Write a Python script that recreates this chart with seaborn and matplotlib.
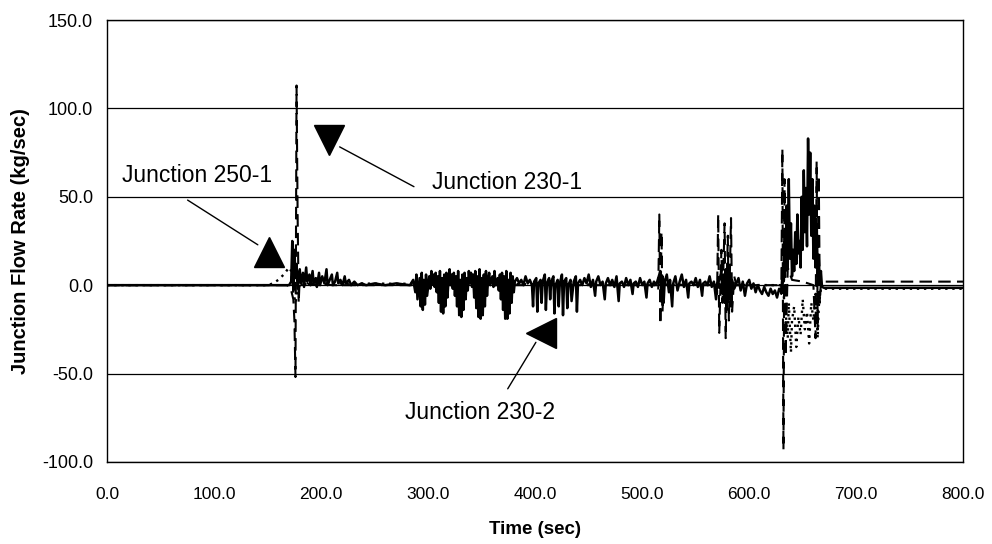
import matplotlib
matplotlib.use("Agg")
import matplotlib.pyplot as plt
import seaborn as sns
import pandas as pd

# Junction 250-1 (solid)
t_250_1 = [0, 170, 172, 173, 174, 175, 176, 177, 178, 180,
           181, 183, 184, 186, 187, 189, 190, 192, 193, 195,
           196, 198, 199, 201, 203, 205, 206, 208, 210, 211,
           213, 215, 216, 218, 220, 222, 223, 226, 228, 231,
           234, 238, 242, 250, 260, 270, 283, 286, 288, 289,
           290, 292, 293, 294, 295, 296, 297, 298, 299, 301,
           302, 303, 304, 305, 306, 307, 308, 309, 310, 311,
           312, 313, 314, 315, 316, 317, 318, 319, 320, 321,
           322, 323, 324, 325, 326, 327, 328, 329, 330, 331,
           332, 333, 334, 335, 336, 337, 338, 339, 340, 341,
           342, 343, 344, 345, 346, 347, 348, 349, 350, 351,
           352, 353, 354, 355, 356, 357, 358, 360, 361, 362,
           363, 365, 366, 367, 368, 369, 370, 371, 372, 373,
           374, 375, 376, 377, 378, 379, 380, 381, 383, 385,
           387, 389, 391, 393, 395, 397, 398, 399, 401, 402,
           403, 405, 406, 407, 409, 410, 411, 413, 414, 415,
           417, 418, 419, 421, 422, 423, 425, 426, 427, 429,
           430, 431, 433, 434, 436, 438, 439, 440, 442, 444,
           446, 448, 450, 452, 454, 456, 457, 459, 461, 463,
           465, 466, 468, 470, 472, 474, 476, 478, 479, 481,
           483, 485, 487, 489, 491, 492, 494, 496, 498, 500,
           502, 504, 505, 507, 509, 511, 513, 515, 517, 518,
           519, 520, 521, 523, 525, 526, 528, 529, 531, 533,
           535, 537, 539, 541, 543, 544, 546, 548, 550, 552,
           554, 556, 557, 559, 561, 563, 565, 567, 569, 570,
           572, 574, 575, 576, 577, 578, 579, 580, 581, 582,
           583, 584, 586, 588, 590, 592, 594, 596, 598, 600,
           602, 604, 606, 608, 610, 612, 614, 616, 618, 620,
           622, 624, 626, 628, 630, 631, 632, 633, 634, 635,
           636, 637, 638, 639, 640, 641, 642, 643, 644, 645,
           646, 647, 648, 649, 650, 651, 652, 653, 654, 655,
           656, 657, 658, 659, 660, 661, 662, 663, 664, 665,
           666, 667, 668, 670, 800]
q_250_1 = [0, 0, 2, 25, -3, 20, 4, 12, -2, 9,
           1, 7, -1, 10, 2, 6, 0, 8, 1, 4,
           -1, 7, 0, 5, 1, 9, 0, 3, 6, 0,
           2, 7, 1, 3, 0, 5, 1, 3, 0, 2,
           0, 1, 0, 1, 0, 1, 0, 3, -4, 6,
           -8, 4, -12, 7, -14, 3, -11, 6, -6, 5,
           -2, 8, 1, 6, -1, 7, -4, 5, -10, 8,
           -15, 4, -16, 6, -12, 7, -7, 3, 9, 0,
           6, -2, 7, -6, 5, -12, 8, -17, 3, -18,
           6, -14, 7, -8, 4, -3, 8, 1, 7, -1,
           6, -7, 8, -13, 5, -18, 9, -19, 4, -17,
           6, -12, 8, -6, 3, 7, 0, 5, -1, 8,
           0, 4, -3, 6, -8, 7, -14, 5, -19, 8,
           -19, 3, -16, 7, -10, 5, -4, 2, 4, 1,
           3, 0, 5, 1, 3, 0, -12, 2, 4, -15,
           1, 3, -10, 2, 6, -14, 1, 4, -8, 2,
           5, -16, 0, 3, -12, 1, 6, -17, 2, 4,
           -13, 0, 3, -9, 2, 5, -15, 1, 3, 0,
           4, 1, 6, -1, 3, -6, 2, 5, 0, 2,
           -8, 1, 4, 0, 3, -1, 5, -9, 1, 2,
           -1, 4, 0, 3, -5, 1, 2, -1, 4, 0,
           2, -7, 1, 3, -1, 2, 0, 4, 8, -6,
           5, -10, 2, 6, -4, 3, -12, 1, 5, -3,
           2, 6, -1, 3, -7, 1, 2, 0, 4, -1,
           3, -6, 1, 2, 0, 5, -1, 2, -8, 1,
           3, 7, -5, 6, -10, 9, -14, 12, -8, 5,
           -12, 3, -2, 1, 4, -3, 2, -6, 1, 3,
           -2, 1, -4, 0, -3, -5, -1, -4, -6, -2,
           -5, -3, -7, -2, -4, 5, 2, 25, 8, 45,
           10, 60, 15, 35, 5, 20, 8, 30, 12, 40,
           18, 25, 10, 50, 20, 65, 30, 55, 22, 83,
           40, 75, 28, 60, 15, 45, 10, 30, 5, 15,
           2, 8, -1, -1.5, -1.5]

# Junction 230-1 (dashed)
t_230_1 = [0, 168, 170, 172, 174, 175, 176, 177, 178, 179,
           180, 182, 185, 190, 200, 210, 240, 290, 512, 515,
           516, 517, 518, 519, 520, 522, 568, 570, 571, 572,
           574, 575, 577, 578, 580, 581, 583, 584, 586, 588,
           628, 630, 631, 632, 633, 634, 636, 640, 650, 660,
           662, 663, 664, 665, 666, 667, 800]
q_230_1 = [0, 0, -1, -3, -8, -20, -52, 113, 40, -10,
           5, 0, 2, 0, 1, 0, 0, 0, 0, -3,
           40, -22, 30, -15, 5, 0, 0, -5, 40, -27,
           20, -10, 35, -30, 28, -20, 38, -15, 5, 0,
           0, -5, 77, -93, 60, -40, 10, 3, 2, 0,
           -30, 70, -25, 62, -10, 2, 2]

# Junction 230-2 (dotted)
t_230_2 = [0, 150, 155, 160, 165, 170, 172, 174, 176, 178,
           180, 190, 630, 632, 634, 636, 637, 639, 640, 642,
           644, 646, 648, 650, 652, 654, 656, 658, 660, 662,
           664, 665, 667, 800]
q_230_2 = [0, 0, 1, 3, 6, 10, 8, -4, -10, -3,
           0, 1, 0, -5, -15, -30, -10, -38, -20, -12,
           -35, -18, -28, -8, -25, -15, -33, -10, -20, -5,
           -30, -12, -2, -2]

y_ticks = [-100, -50, 0, 50, 100, 150]
x_ticks = [0, 100, 200, 300, 400, 500, 600, 700, 800]

sns.set_style("white")
plt.rcParams['font.family'] = ['Liberation Sans', 'DejaVu Sans']
plt.rcParams['text.color'] = 'black'
plt.rcParams['axes.labelcolor'] = 'black'

fig = plt.figure(figsize=(9.92, 5.44), dpi=100)
ax = fig.add_axes([0.108, 0.151, 0.863, 0.812])

df1 = pd.DataFrame({'t': t_250_1, 'q': q_250_1})
df2 = pd.DataFrame({'t': t_230_1, 'q': q_230_1})
df3 = pd.DataFrame({'t': t_230_2, 'q': q_230_2})

sns.lineplot(data=df3, x='t', y='q', ax=ax, color='k', lw=1.7,
             linestyle=(0, (1, 2)), estimator=None, sort=False)
sns.lineplot(data=df2, x='t', y='q', ax=ax, color='k', lw=1.5,
             linestyle=(0, (6, 3)), estimator=None, sort=False)
sns.lineplot(data=df1, x='t', y='q', ax=ax, color='k', lw=1.8,
             estimator=None, sort=False)

ax.set_xlim(0, 800)
ax.set_ylim(-100, 150)
ax.set_yticks(y_ticks)
ax.set_xticks(x_ticks)
ax.set_yticklabels([f"{v:.1f}" for v in y_ticks], fontsize=13)
ax.set_xticklabels([f"{v:.1f}" for v in x_ticks], fontsize=12.5)
ax.yaxis.grid(True, color='k', lw=0.9)
ax.xaxis.grid(False)
ax.set_axisbelow(True)
for s in ax.spines.values():
    s.set_color('k')
    s.set_linewidth(1.0)
ax.tick_params(axis='both', direction='inout', length=8, width=0.9, colors='k')
ax.tick_params(axis='x', pad=14)
ax.tick_params(axis='y', pad=6)

ax.set_xlabel("Time (sec)", fontsize=13.5, fontweight='bold', labelpad=14, color='k')
ax.set_ylabel("Junction Flow Rate (kg/sec)", fontsize=14.5, fontweight='bold', labelpad=9, color='k')

# annotations
ax.text(14, 62, "Junction 250-1", fontsize=16.5, va='center', ha='left', color='k')
ax.annotate('', xy=(143, 22), xytext=(73, 49), arrowprops=dict(arrowstyle='-', color='k', lw=1))
ax.plot(151, 19, marker='^', ms=22, color='k')

ax.text(304, 58, "Junction 230-1", fontsize=16.5, va='center', ha='left', color='k')
ax.annotate('', xy=(215, 79), xytext=(289, 55), arrowprops=dict(arrowstyle='-', color='k', lw=1))
ax.plot(207, 82, marker='v', ms=22, color='k')

ax.text(278, -72, "Junction 230-2", fontsize=16.5, va='center', ha='left', color='k')
ax.annotate('', xy=(402, -31), xytext=(373, -60), arrowprops=dict(arrowstyle='-', color='k', lw=1))
ax.plot(405, -27, marker='<', ms=22, color='k')

fig.savefig("out.png", dpi=100)
